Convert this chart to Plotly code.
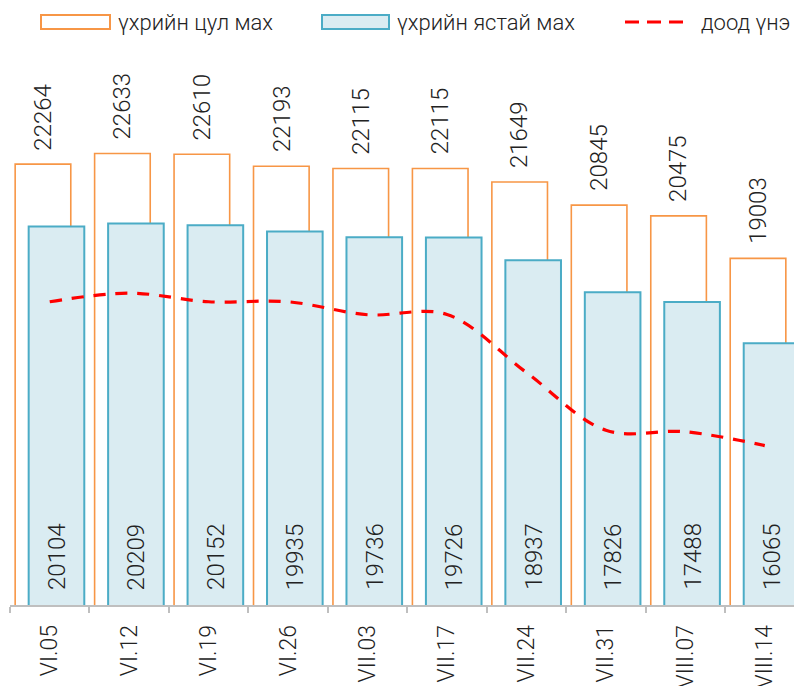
import plotly.graph_objects as go

# ---- data ----
categories = ["VI.05", "VI.12", "VI.19", "VI.26", "VII.03", "VII.17",
              "VII.24", "VII.31", "VIII.07", "VIII.14"]
boneless_beef = [22264, 22633, 22610, 22193, 22115, 22115, 21649, 20845, 20475, 19003]
bone_in_beef = [20104, 20209, 20152, 19935, 19736, 19726, 18937, 17826, 17488, 16065]
lowest_price = [17500, 17800, 17500, 17500, 17050, 17060, 15050, 13050, 13000, 12520]

series_names = ["үхрийн цул мах", "үхрийн ястай мах", "доод үнэ"]

# ---- styles ----
ORANGE = "#F79646"
BLUE_LINE = "#4BACC6"
BLUE_FILL = "#DAECF2"
RED = "#FF0000"
TEXT = "#222222"
FONT = "Roboto"

PAGE_OFF = 8  # default page margin offset of the figure on screen
W, H = 802, 686
ML, MR, MT, MB = 2, 0, 33, 89
PW, PH = W - ML - MR, H - MT - MB
SLOT_PX = 79.45

BAR_W = 0.70
OFF_OR = -0.435
OFF_BL = -0.265

fig = go.Figure()
fig.add_trace(go.Bar(
    x=categories, y=boneless_beef, name=series_names[0],
    width=BAR_W, offset=OFF_OR,
    marker=dict(color="white", line=dict(color=ORANGE, width=1.6)),
    showlegend=False,
))
fig.add_trace(go.Bar(
    x=categories, y=bone_in_beef, name=series_names[1],
    width=BAR_W, offset=OFF_BL,
    marker=dict(color=BLUE_FILL, line=dict(color=BLUE_LINE, width=2)),
    showlegend=False,
))
fig.add_trace(go.Scatter(
    x=categories, y=lowest_price, name=series_names[2], mode="lines",
    line=dict(color=RED, width=3.2, dash="12px,10px", shape="spline", smoothing=1.0),
    showlegend=False,
))

LABEL_FONT = dict(family=FONT, size=24, color=TEXT, weight=300)
annotations = []
for i, (a, b) in enumerate(zip(boneless_beef, bone_in_beef)):
    annotations.append(dict(
        x=i + OFF_OR + BAR_W / 2, y=a, xref="x", yref="y",
        text=str(a), showarrow=False, textangle=-90,
        xanchor="center", yanchor="bottom", yshift=12,
        font=LABEL_FONT,
    ))
    annotations.append(dict(
        x=i + OFF_BL + BAR_W / 2, y=0, xref="x", yref="y domain",
        text=str(b), showarrow=False, textangle=-90,
        xanchor="center", yanchor="bottom", yshift=13,
        font=LABEL_FONT,
    ))

# ---- custom legend (screen pixel positions converted to paper coords) ----
def px(x):
    return (x - PAGE_OFF - ML) / PW

def py(y):
    return (MT + PH - (y - PAGE_OFF)) / PH

shapes = [
    dict(type="rect", xref="paper", yref="paper", x0=px(41), x1=px(110), y0=py(29), y1=py(15),
         line=dict(color=ORANGE, width=2), fillcolor="white"),
    dict(type="rect", xref="paper", yref="paper", x0=px(322), x1=px(389), y0=py(29), y1=py(15),
         line=dict(color=BLUE_LINE, width=2), fillcolor=BLUE_FILL),
    dict(type="line", xref="paper", yref="paper", x0=px(625), x1=px(686), y0=py(22), y1=py(22),
         line=dict(color=RED, width=3.2, dash="14px,8px")),
]
for xt, name in zip([116, 395, 699], series_names):
    annotations.append(dict(
        x=px(xt), y=py(22), xref="paper", yref="paper", text=name, showarrow=False,
        xanchor="left", yanchor="middle",
        font=dict(family=FONT, size=22, color=TEXT, weight=300),
    ))

fig.update_layout(
    width=W, height=H, template="none",
    margin=dict(l=ML, r=MR, t=MT, b=MB, autoexpand=False),
    paper_bgcolor="white", plot_bgcolor="white",
    barmode="overlay", showlegend=False,
    font=dict(family=FONT, size=22, color=TEXT, weight=300),
    shapes=shapes, annotations=annotations,
    xaxis=dict(
        type="category", range=[-0.5, -0.5 + PW / SLOT_PX],
        showline=True, linecolor="#BFBFBF", linewidth=1.5,
        ticks="outside", tickson="boundaries", ticklen=6, tickcolor="#BFBFBF", tickwidth=1.5,
        tickangle=-90, tickfont=dict(family=FONT, size=23, color=TEXT, weight=300),
        showgrid=False, zeroline=False, automargin=False, ticklabelstandoff=9,
    ),
    yaxis=dict(
        range=[7000, 26529], visible=False, showgrid=False, zeroline=False,
    ),
)

fig.write_html("out.html")
